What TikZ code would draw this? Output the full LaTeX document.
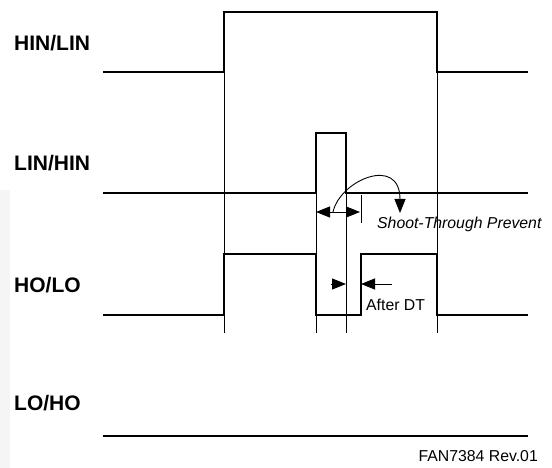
\documentclass[tikz,border=0pt]{standalone}
\usepackage{fontspec}
\setmainfont{Liberation Sans}
\usepackage{xcolor}
\definecolor{StripGray}{HTML}{F5F5F5}
\usetikzlibrary{arrows.meta}

\begin{document}
\begin{tikzpicture}[x=1pt, y=-1pt, >={Triangle[length=14pt,width=11pt]},
  wave/.style={line width=2.4pt, line join=miter},
  guide/.style={line width=0.6pt},
  dim/.style={line width=0.9pt},
  sig/.style={font=\fontsize{21}{21}\selectfont\bfseries, anchor=west},
  every node/.style={font=\fontsize{15.8}{16}\selectfont, inner sep=0pt}]
  \useasboundingbox (0,0) rectangle (552,468);
  \fill[StripGray] (0,190) rectangle (10,468);
  % signal names
  \node[sig] (hin) at (14,43) {HIN/LIN};
  \node[sig] (lin) at (14,163) {LIN/HIN};
  \node[sig] (ho) at (14,285) {HO/LO};
  \node[sig] (lo) at (14,403) {LO/HO};
  % thin guides
  \foreach \x/\y in {224/72, 437/72, 316/193, 346/193} \draw[guide] (\x,\y) -- (\x,333);
  % waveforms
  \draw[wave] (103,72) -- (224,72) -- (224,12) -- (437,12) -- (437,72) -- (528,72);
  \draw[wave] (103,193) -- (316,193) -- (316,133) -- (346,133) -- (346,193) -- (528,193);
  \draw[wave] (103,315) -- (224,315) -- (224,254) -- (316,254) -- (316,315) -- (361,315)
    -- (361,254) -- (437,254) -- (437,315) -- (528,315);
  \draw[wave] (103,436) -- (528,436);
  % shoot-through window
  \coordinate (stL) at (316,212); \coordinate (stR) at (360,212);
  \coordinate (stbarT) at (361,195); \coordinate (stbarB) at (361,223);
  \coordinate (stfrom) at (333,212); \coordinate (stto) at (400,213);
  \draw[dim] (stbarT) -- (stbarB);
  \draw[dim, <->] (stL) -- (stR);
  \draw[dim, ->] (stfrom) .. controls (340,180) and (400,155) .. (stto);
  \node[font=\fontsize{15.8}{16}\selectfont\itshape, anchor=west] (stp) at (377,224) {Shoot-Through Prevent};
  % dead time
  \coordinate (dtA) at (331,284); \coordinate (dtB) at (346,284);
  \coordinate (dtC) at (392,284); \coordinate (dtD) at (361,284);
  \draw[dim, ->] (dtA) -- (dtB); \draw[dim, ->] (dtC) -- (dtD);
  \node[anchor=west] (adt) at (366,305) {After DT};
  \node[anchor=east] (rev) at (538,456) {FAN7384 Rev.01};
\end{tikzpicture}
\end{document}
